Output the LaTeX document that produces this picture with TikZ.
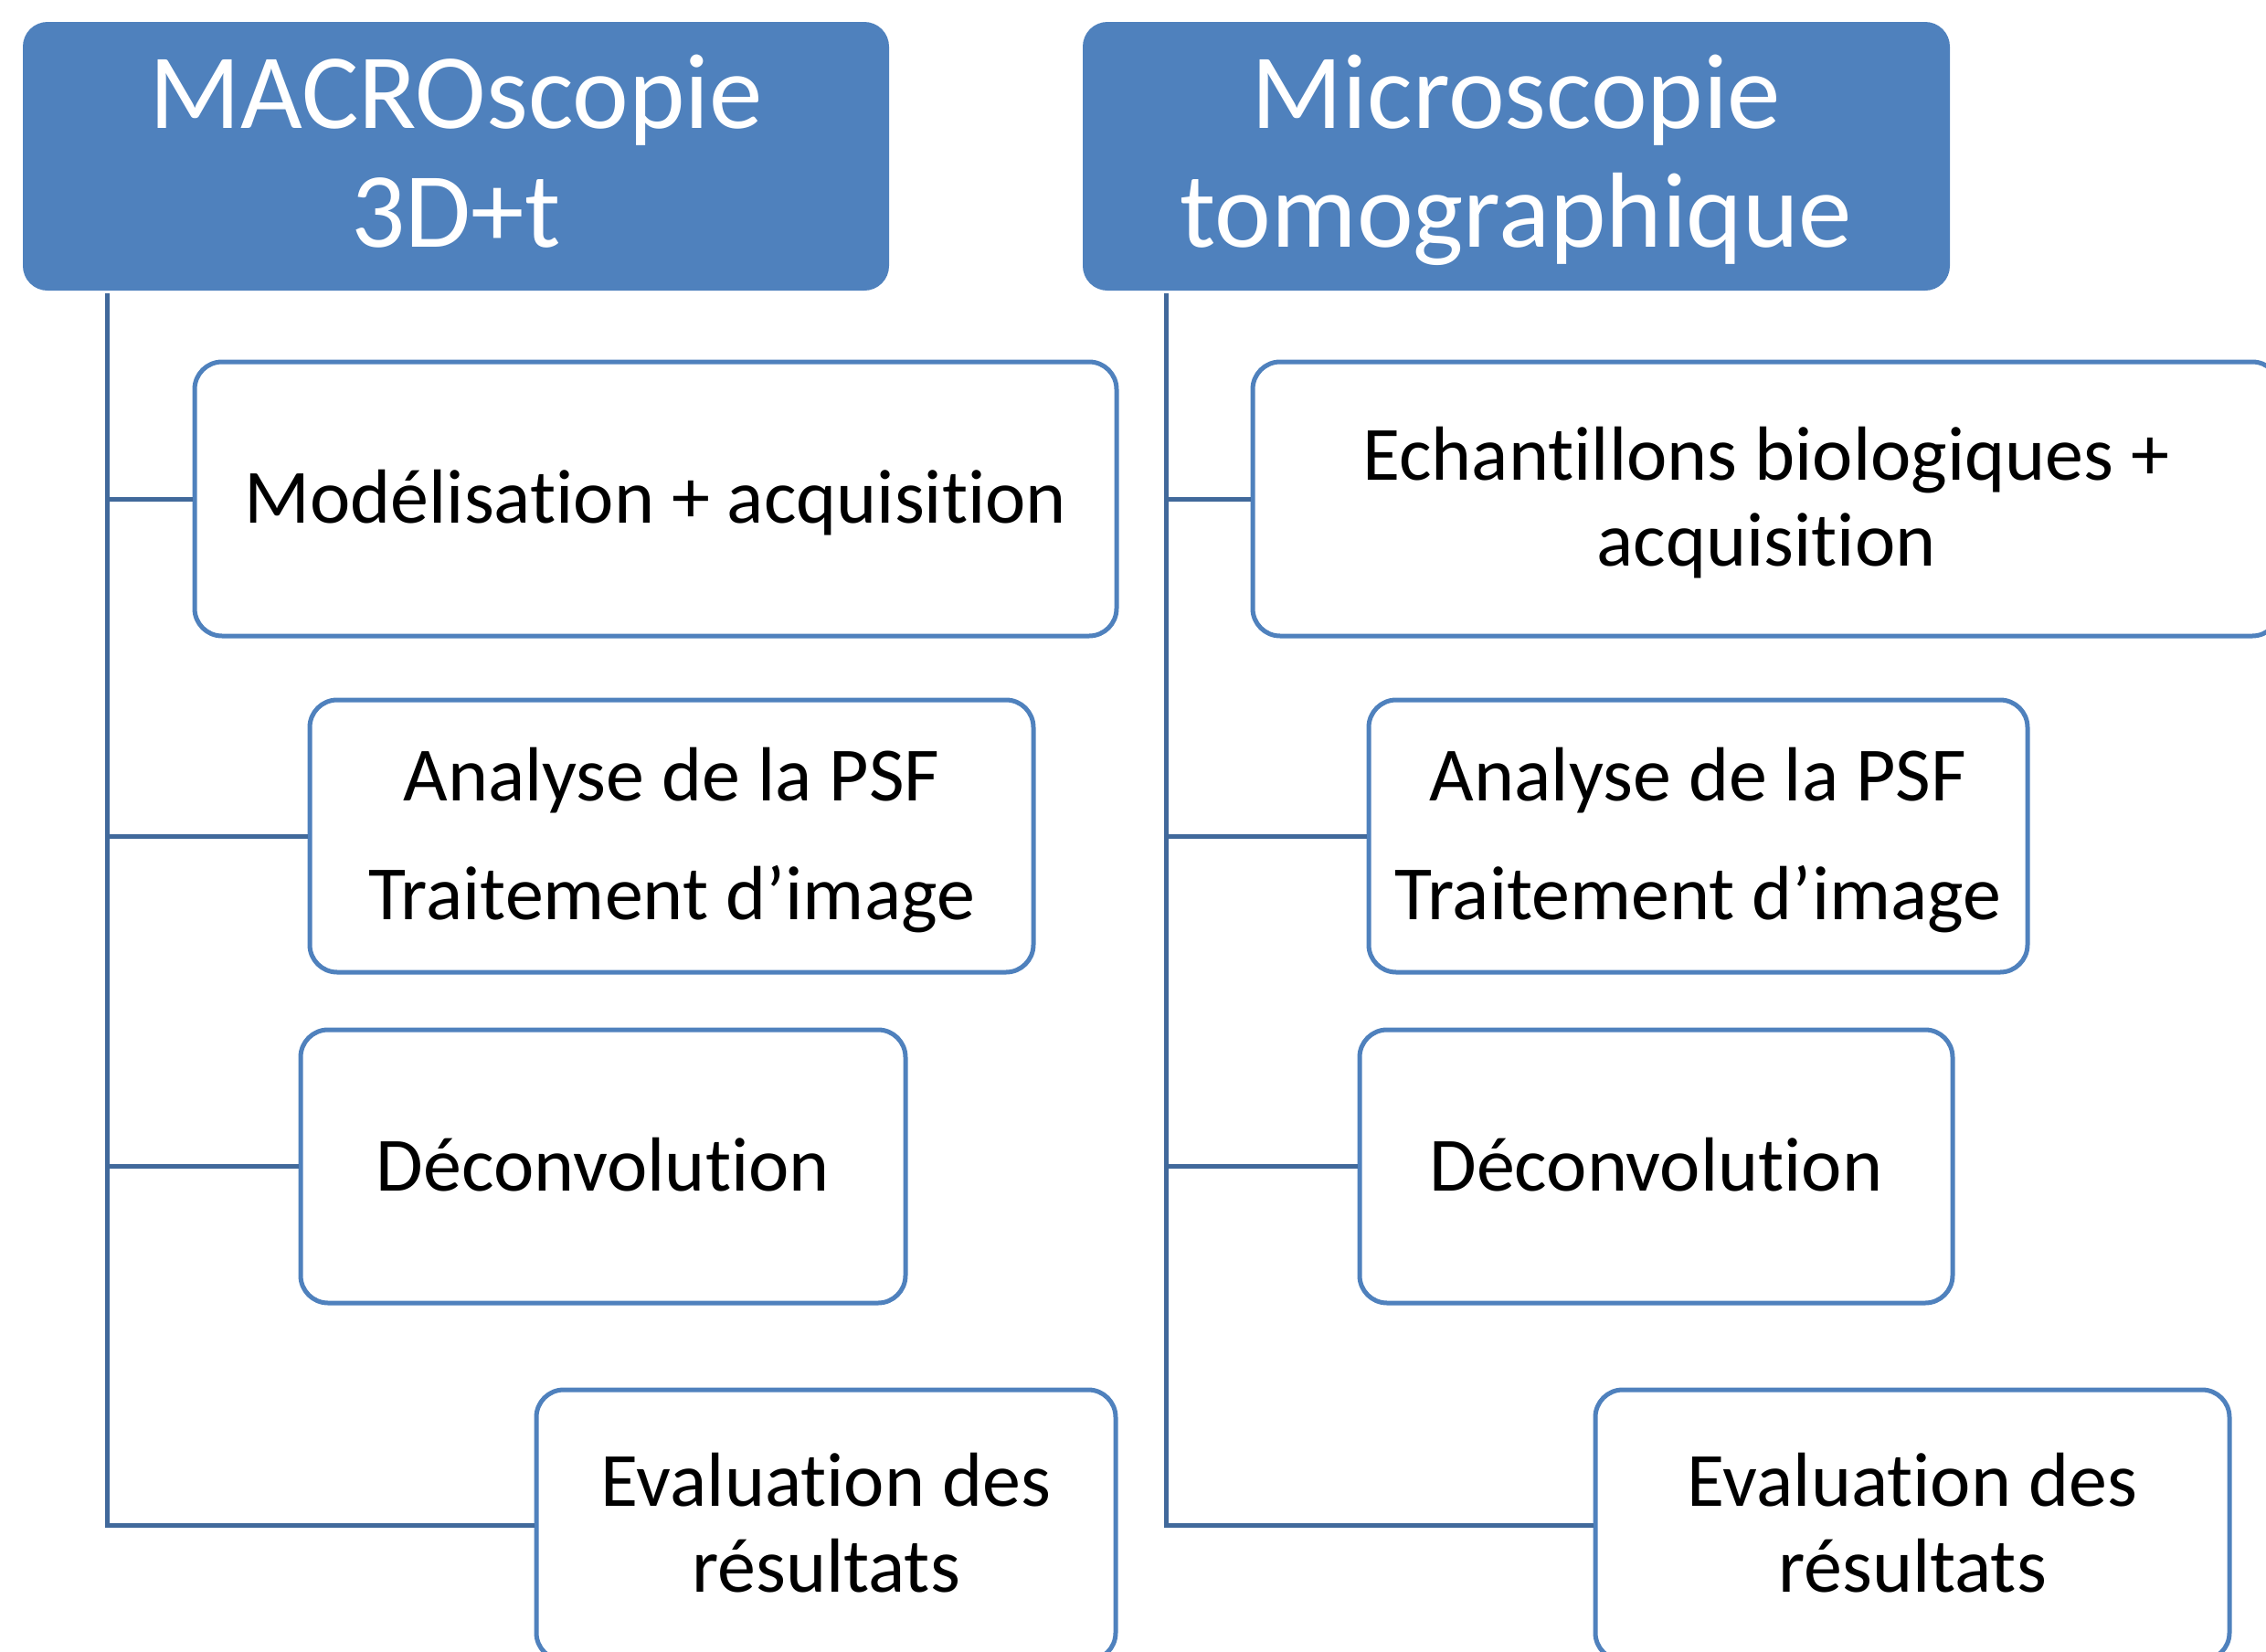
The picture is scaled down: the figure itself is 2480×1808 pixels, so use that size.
\documentclass[tikz,border=0pt]{standalone}
\usepackage{fontspec}
\setmainfont{Carlito}[Ligatures=CommonOff]
\definecolor{hblue}{HTML}{4F81BD}
\definecolor{cblue}{HTML}{41699B}
\tikzset{
  hdr/.style={rectangle, rounded corners=8.1pt, fill=hblue, draw=none,
    text=white, font=\fontsize{35.1}{39}\selectfont, inner sep=0pt,
    minimum height=88.2pt, text height=22.2pt, text depth=40.8pt},
  stepbox/.style={rectangle, rounded corners=9pt, draw=hblue, line width=1.5pt,
    fill=white, font=\fontsize{25.2}{28.2}\selectfont, inner sep=0pt,
    text height=15.9pt, text depth=0pt},
  twoline/.style={text depth=28.2pt},
  conn/.style={draw=cblue, line width=1.5pt},
}
\newcommand{\lines}[1]{\begin{tabular}[t]{@{}c@{}}#1\end{tabular}}
\begin{document}
\begin{tikzpicture}[x=0.3pt, y=-0.3pt]
\useasboundingbox (0,0) rectangle (2480,1808);

% left column: macroscopy
\node[hdr, minimum width=284.4pt] (h1) at (499,171) {\lines{MACROscopie\\3D+t}};
\node[stepbox, minimum width=302.7pt, minimum height=90pt] (l1) at (717.5,546)
  {Modélisation + acquisition};
\node[stepbox, minimum width=237.6pt, minimum height=89.4pt, text depth=39pt] (l2) at (735,915)
  {\lines{Analyse de la PSF\\[10.8pt]Traitement d’image}};
\node[stepbox, minimum width=198.6pt, minimum height=89.7pt] (l3) at (660,1276.5)
  {Déconvolution};
\node[stepbox, twoline, minimum width=190.2pt, minimum height=88.8pt] (l4) at (904,1669)
  {\lines{Evaluation des\\résultats}};

% right column: tomographic microscopy
\node[hdr, minimum width=284.7pt] (h2) at (1659.5,171) {\lines{Microscopie\\tomographique}};
\node[stepbox, twoline, minimum width=337.2pt, minimum height=90pt] (r1) at (1933,546)
  {\lines{Echantillons biologiques +\\acquisition}};
\node[stepbox, minimum width=216.3pt, minimum height=89.4pt, text depth=39pt] (r2) at (1858.5,915)
  {\lines{Analyse de la PSF\\[10.8pt]Traitement d’image}};
\node[stepbox, minimum width=194.7pt, minimum height=89.7pt] (r3) at (1812.5,1276.5)
  {Déconvolution};
\node[stepbox, twoline, minimum width=208.2pt, minimum height=88.8pt] (r4) at (2093,1669)
  {\lines{Evaluation des\\résultats}};

% trunks under the headers
\coordinate (t1) at (117,321);
\coordinate (t2) at (1276,321);

\draw[conn] (t1) |- (l4.west);
\draw[conn] (t1 |- l1.west) -- (l1.west);
\draw[conn] (t1 |- l2.west) -- (l2.west);
\draw[conn] (t1 |- l3.west) -- (l3.west);

\draw[conn] (t2) |- (r4.west);
\draw[conn] (t2 |- r1.west) -- (r1.west);
\draw[conn] (t2 |- r2.west) -- (r2.west);
\draw[conn] (t2 |- r3.west) -- (r3.west);
\end{tikzpicture}
\end{document}
